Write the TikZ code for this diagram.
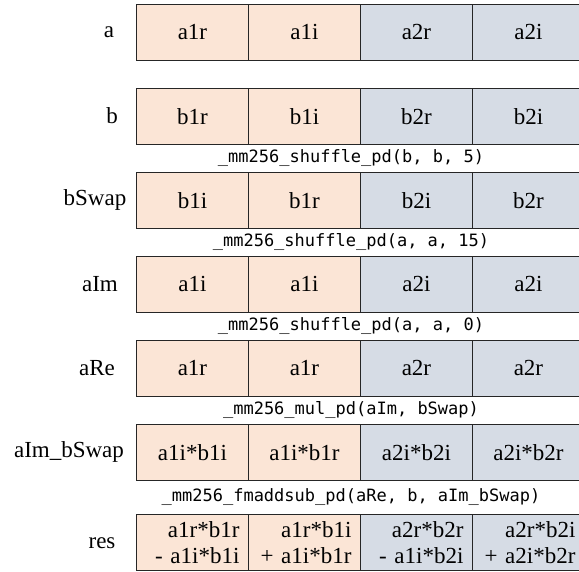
\documentclass[tikz,border=0pt]{standalone}
\usepackage{fontspec}
\setmainfont{Liberation Serif}
\setmonofont{DejaVu Sans Mono}
\definecolor{peach}{HTML}{FBE5D6}
\definecolor{steel}{HTML}{D6DCE5}
\definecolor{edge}{HTML}{262626}
\begin{document}
\begin{tikzpicture}[x=1pt,y=-1pt,
  cell/.style={draw=edge, line width=0.9pt, minimum width=112pt, minimum height=56pt,
    anchor=north west, inner sep=0pt, font=\fontsize{23}{26}\selectfont},
  lcell/.style={cell, fill=peach},
  rcell/.style={cell, fill=steel},
  sumcell/.style={align=right, text width=94pt, inner xsep=9pt},
  rowlabel/.style={font=\fontsize{23}{26}\selectfont, inner sep=0pt},
  oplabel/.style={font=\ttfamily\fontsize{17}{20}\selectfont, inner sep=0pt}
]
\useasboundingbox (0,0) rectangle (579,571);
\clip (0,0) rectangle (579,571);

% row a
\node[rowlabel] (la) at (109,32) {a};
\node[lcell] (a1) at (136,4) {a1r};
\node[lcell] (a2) at (248,4) {a1i};
\node[rcell] (a3) at (360,4) {a2r};
\node[rcell] (a4) at (472,4) {a2i};

% row b
\node[rowlabel] (lb) at (112,116) {b};
\node[lcell] (b1) at (136,88) {b1r};
\node[lcell] (b2) at (248,88) {b1i};
\node[rcell] (b3) at (360,88) {b2r};
\node[rcell] (b4) at (472,88) {b2i};

\node[oplabel] (op1) at (351,158) {\_mm256\_shuffle\_pd(b, b, 5)};

% row bSwap
\node[rowlabel] (lbs) at (95,200) {bSwap};
\node[lcell] (s1) at (136,172) {b1i};
\node[lcell] (s2) at (248,172) {b1r};
\node[rcell] (s3) at (360,172) {b2i};
\node[rcell] (s4) at (472,172) {b2r};

\node[oplabel] (op2) at (351,242) {\_mm256\_shuffle\_pd(a, a, 15)};

% row aIm
\node[rowlabel] (lim) at (100,284) {aIm};
\node[lcell] (i1) at (136,256) {a1i};
\node[lcell] (i2) at (248,256) {a1i};
\node[rcell] (i3) at (360,256) {a2i};
\node[rcell] (i4) at (472,256) {a2i};

\node[oplabel] (op3) at (351,326) {\_mm256\_shuffle\_pd(a, a, 0)};

% row aRe
\node[rowlabel] (lre) at (97,368) {aRe};
\node[lcell] (r1) at (136,340) {a1r};
\node[lcell] (r2) at (248,340) {a1r};
\node[rcell] (r3) at (360,340) {a2r};
\node[rcell] (r4) at (472,340) {a2r};

\node[oplabel] (op4) at (351,410) {\_mm256\_mul\_pd(aIm, bSwap)};

% row aIm_bSwap
\node[rowlabel] (lib) at (69,452) {aIm\_bSwap};
\node[lcell] (p1) at (136,424) {a1i*b1i};
\node[lcell] (p2) at (248,424) {a1i*b1r};
\node[rcell] (p3) at (360,424) {a2i*b2i};
\node[rcell] (p4) at (472,424) {a2i*b2r};

\node[oplabel] (op5) at (351,497) {\_mm256\_fmaddsub\_pd(aRe, b, aIm\_bSwap)};

% row res
\node[rowlabel] (lres) at (102,543) {res};
\node[lcell, sumcell] (q1) at (136,514) {a1r*b1r\\- a1i*b1i};
\node[lcell, sumcell] (q2) at (248,514) {a1r*b1i\\+ a1i*b1r};
\node[rcell, sumcell] (q3) at (360,514) {a2r*b2r\\- a1i*b2i};
\node[rcell, sumcell] (q4) at (472,514) {a2r*b2i\\+ a2i*b2r};
\end{tikzpicture}
\end{document}
